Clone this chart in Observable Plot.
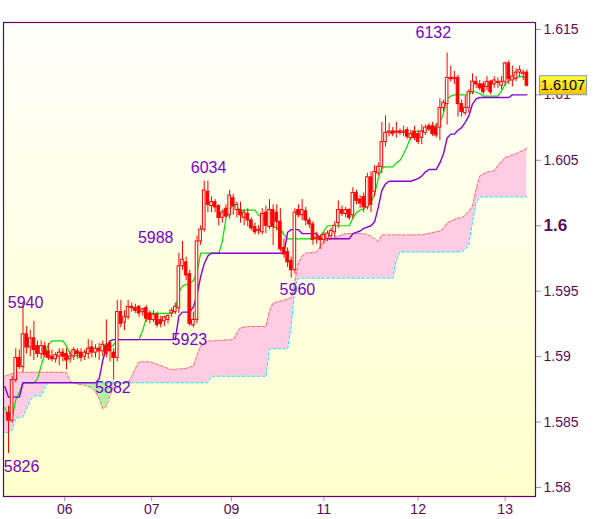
<!DOCTYPE html>
<html><head><meta charset="utf-8">
<script src="https://cdn.jsdelivr.net/npm/d3@7"></script>
<script src="https://cdn.jsdelivr.net/npm/@observablehq/plot@0.6"></script>
<style>body{margin:0;background:#fff;} #chart svg{display:block;}</style>
</head><body><div id="chart"></div>
<script>
// ---- candles (hourly bars, index 0..143) ----
const open = [1.5857,1.5851,1.5882,1.5899,1.5892,1.5917,1.5907,1.5914,1.5908,1.5902,1.5908,1.5904,1.5900,1.5898,1.5900,1.5903,1.5902,1.5898,1.5900,1.5904,1.5903,1.5900,1.5902,1.5907,1.5903,1.5906,1.5904,1.5908,1.5910,1.5903,
1.5899,1.5934,1.5926,1.5930,1.5938,1.5937,1.5938,1.5934,1.5937,1.5933,1.5928,1.5932,1.5928,1.5927,1.5928,1.5933,1.5934,1.5937,1.5969,1.5972,1.5963,1.5924,1.5928,1.5988,1.5997,1.6026,1.6015,1.6018,1.6015,1.6006,
1.6013,1.6008,1.6021,1.6012,1.6012,1.6006,1.6009,1.6004,1.5999,1.5996,1.5995,1.6010,1.5999,1.6012,1.6010,1.6003,1.5983,1.5980,1.5973,1.5966,1.6012,1.6008,1.6011,1.6004,1.6001,1.5990,1.5991,1.5989,1.5990,1.5992,
1.5995,1.6002,1.6012,1.6009,1.6012,1.6008,1.6025,1.6020,1.6022,1.6014,1.6037,1.6026,1.6040,1.6045,1.6064,1.6071,1.6072,1.6071,1.6072,1.6071,1.6073,1.6067,1.6072,1.6070,1.6067,1.6071,1.6076,1.6076,1.6075,1.6075,
1.6090,1.6093,1.6113,1.6112,1.6113,1.6093,1.6086,1.6090,1.6102,1.6110,1.6108,1.6108,1.6106,1.6110,1.6108,1.6109,1.6107,1.6110,1.6124,1.6111,1.6112,1.6117,1.6116,1.6117];
const high = [1.5862,1.5885,1.5906,1.5905,1.5940,1.5923,1.5920,1.5927,1.5912,1.5912,1.5911,1.5910,1.5905,1.5903,1.5906,1.5906,1.5906,1.5904,1.5907,1.5906,1.5906,1.5905,1.5913,1.5912,1.5909,1.5910,1.5912,1.5928,1.5912,1.5906,
1.5943,1.5943,1.5935,1.5943,1.5941,1.5940,1.5939,1.5937,1.5939,1.5935,1.5935,1.5934,1.5931,1.5931,1.5932,1.5937,1.5941,1.5979,1.5988,1.5976,1.5966,1.5934,1.5992,1.6000,1.6034,1.6034,1.6022,1.6020,1.6016,1.6012,
1.6016,1.6027,1.6024,1.6018,1.6018,1.6012,1.6013,1.6006,1.6002,1.6000,1.6013,1.6015,1.6020,1.6016,1.6016,1.6013,1.5990,1.5983,1.5976,1.6013,1.6016,1.6020,1.6014,1.6006,1.6003,1.5995,1.5993,1.5995,1.5996,1.5998,
1.6003,1.6019,1.6015,1.6014,1.6013,1.6029,1.6027,1.6023,1.6025,1.6040,1.6041,1.6046,1.6048,1.6079,1.6084,1.6078,1.6075,1.6079,1.6074,1.6076,1.6075,1.6073,1.6076,1.6073,1.6077,1.6077,1.6078,1.6079,1.6078,1.6097,
1.6096,1.6132,1.6122,1.6118,1.6115,1.6096,1.6099,1.6104,1.6116,1.6114,1.6111,1.6110,1.6114,1.6111,1.6114,1.6113,1.6114,1.6125,1.6126,1.6122,1.6120,1.6122,1.6119,1.6119];
const low = [1.5826,1.5849,1.5880,1.5890,1.5888,1.5902,1.5900,1.5897,1.5899,1.5898,1.5899,1.5897,1.5896,1.5895,1.5893,1.5896,1.5890,1.5895,1.5897,1.5898,1.5896,1.5897,1.5898,1.5899,1.5899,1.5897,1.5900,1.5899,1.5896,1.5882,
1.5896,1.5922,1.5920,1.5928,1.5934,1.5933,1.5930,1.5931,1.5926,1.5925,1.5926,1.5922,1.5922,1.5923,1.5925,1.5930,1.5932,1.5933,1.5966,1.5958,1.5923,1.5922,1.5925,1.5985,1.5995,1.6010,1.6010,1.6010,1.6000,1.6002,
1.6006,1.6005,1.6008,1.6006,1.6002,1.6000,1.5999,1.5996,1.5993,1.5993,1.5993,1.5994,1.5997,1.5985,1.5996,1.5980,1.5975,1.5968,1.5960,1.5963,1.6006,1.6004,1.6000,1.5998,1.5985,1.5986,1.5982,1.5986,1.5988,1.5989,
1.5991,1.5998,1.6007,1.6006,1.6004,1.6005,1.6016,1.6013,1.6010,1.6012,1.6010,1.6022,1.6038,1.6040,1.6060,1.6068,1.6068,1.6067,1.6069,1.6068,1.6066,1.6065,1.6065,1.6062,1.6062,1.6069,1.6072,1.6068,1.6067,1.6065,
1.6087,1.6077,1.6110,1.6108,1.6083,1.6083,1.6084,1.6086,1.6100,1.6105,1.6103,1.6100,1.6103,1.6100,1.6105,1.6105,1.6104,1.6107,1.6108,1.6106,1.6110,1.6113,1.6111,1.6106];
const close = [1.5851,1.5882,1.5899,1.5892,1.5917,1.5907,1.5914,1.5905,1.5902,1.5908,1.5901,1.5899,1.5898,1.5901,1.5903,1.5900,1.5897,1.5900,1.5905,1.5902,1.5899,1.5903,1.5906,1.5903,1.5906,1.5904,1.5909,1.5902,1.5904,1.5899,
1.5934,1.5925,1.5930,1.5938,1.5937,1.5935,1.5933,1.5936,1.5929,1.5928,1.5932,1.5924,1.5925,1.5930,1.5931,1.5935,1.5938,1.5969,1.5974,1.5962,1.5925,1.5928,1.5988,1.5997,1.6027,1.6016,1.6018,1.6014,1.6006,1.6010,
1.6007,1.6023,1.6015,1.6016,1.6008,1.6010,1.6004,1.5998,1.5995,1.5997,1.6009,1.6000,1.6012,1.5999,1.6003,1.5982,1.5978,1.5972,1.5966,1.6010,1.6008,1.6012,1.6004,1.6001,1.5989,1.5991,1.5989,1.5993,1.5994,1.5996,
1.6000,1.6012,1.6009,1.6012,1.6006,1.6025,1.6019,1.6017,1.6014,1.6037,1.6016,1.6041,1.6045,1.6064,1.6071,1.6072,1.6070,1.6072,1.6071,1.6072,1.6068,1.6070,1.6067,1.6064,1.6072,1.6075,1.6074,1.6070,1.6069,1.6090,
1.6094,1.6113,1.6112,1.6113,1.6093,1.6087,1.6090,1.6102,1.6110,1.6108,1.6105,1.6102,1.6110,1.6102,1.6111,1.6110,1.6110,1.6124,1.6112,1.6114,1.6117,1.6119,1.6117,1.6107];

// ---- conversion line (green) ----
const tenkanIdx = [-1,0,1,2,3,4,7,8,9,10,11,12,14,15,16,17,18,20,21,22,24,25,26,27,28,29,30,36,37,38,39,45,46,47,48,50,51,52,53,58,59,60,61,62,63,64,68,69,70,71,72,73,75,76,77,85,86,87,88,94,95,96,97,98,99,100,101,102,103,104,106,107,108,109,110,111,112,114,116,118,119,120,121,122,123,127,128,129,130,131,135,136,137,138,140,141,142,143];
const tenkanVal = [1.5861,1.5854,1.5853,1.5867,1.5873,1.5880,1.5880,1.5883,1.5893,1.5902,1.5909,1.5912,1.5912,1.5912,1.5908,1.5902,1.5901,1.5901,1.5902,1.5904,1.5906,1.5906,1.5908,1.5910,1.5907,1.5909,1.5913,1.5913,1.5920,1.5929,1.5933,1.5933,1.5935,1.5949,1.5954,1.5956,1.5958,1.5964,1.5979,1.5979,1.5988,1.6006,1.6012,1.6016,1.6014,1.6012,1.6012,1.6008,1.6006,1.6004,1.6006,1.5999,1.5998,1.5993,1.5990,1.5990,1.5992,1.5996,1.6000,1.6000,1.6006,1.6010,1.6012,1.6013,1.6015,1.6018,1.6024,1.6036,1.6044,1.6045,1.6045,1.6048,1.6050,1.6055,1.6061,1.6068,1.6072,1.6072,1.6074,1.6077,1.6079,1.6086,1.6097,1.6099,1.6100,1.6100,1.6103,1.6102,1.6101,1.6099,1.6099,1.6103,1.6108,1.6111,1.6113,1.6114,1.6114,1.6113];

// ---- base line (purple) ----
const kijunIdx = [-1,0,3,4,24,25,26,27,28,29,46,47,48,50,51,52,53,54,55,56,76,77,78,80,81,85,86,94,95,97,98,100,101,102,103,104,105,111,113,114,115,116,118,119,120,121,122,123,124,125,126,127,128,129,130,138,139,143];
const kijunVal = [1.5877,1.5869,1.5869,1.5880,1.5880,1.5883,1.5897,1.5907,1.5912,1.5913,1.5913,1.5931,1.5934,1.5934,1.5938,1.5947,1.5961,1.5971,1.5977,1.5979,1.5979,1.5995,1.5997,1.5997,1.5994,1.5994,1.5990,1.5990,1.5994,1.5996,1.5998,1.6000,1.6003,1.6014,1.6027,1.6032,1.6034,1.6034,1.6036,1.6038,1.6041,1.6043,1.6043,1.6048,1.6055,1.6067,1.6070,1.6070,1.6073,1.6075,1.6079,1.6084,1.6093,1.6097,1.6098,1.6098,1.6100,1.6100];

// ---- cloud: leading span A (salmon) and B (cyan) ----
const cloudIdx = [-2,0,1,2,4,5,6,7,9,10,11,16,17,19,21,23,24,25,26,27,28,29,30,33,34,35,36,39,42,45,49,51,52,53,55,56,62,63,64,66,71,72,73,76,77,78,79,80,81,82,85,86,87,89,93,98,100,102,103,106,107,108,114,119,120,121,124,125,126,127,128,129,130,132,134,135,137,140,143];
const spanA = [1.5884,1.5886,1.5887,1.5888,1.5888,1.5888,1.5888,1.5888,1.5888,1.5888,1.5888,1.5888,1.5881,1.5879,1.5878,1.5876,1.5873,1.5868,1.5860,1.5862,1.5870,1.5877,1.5880,1.5880,1.5885,1.5891,1.5896,1.5896,1.5893,1.5890,1.5891,1.5893,1.5901,1.5908,1.5912,1.5912,1.5913,1.5918,1.5922,1.5923,1.5923,1.5935,1.5941,1.5943,1.5944,1.5945,1.5958,1.5972,1.5977,1.5979,1.5980,1.5984,1.5988,1.5990,1.5994,1.5994,1.5992,1.5988,1.5993,1.5993,1.5993,1.5993,1.5993,1.5996,1.5998,1.6002,1.6006,1.6006,1.6008,1.6011,1.6015,1.6028,1.6038,1.6041,1.6042,1.6046,1.6052,1.6055,1.6059];
const spanB = [1.5842,1.5842,1.5844,1.5853,1.5854,1.5860,1.5867,1.5870,1.5870,1.5877,1.5880,1.5880,1.5880,1.5880,1.5880,1.5880,1.5880,1.5880,1.5880,1.5880,1.5880,1.5880,1.5880,1.5880,1.5880,1.5880,1.5880,1.5880,1.5880,1.5880,1.5880,1.5880,1.5880,1.5880,1.5880,1.5885,1.5885,1.5885,1.5885,1.5885,1.5885,1.5906,1.5906,1.5906,1.5906,1.5924,1.5954,1.5960,1.5960,1.5960,1.5960,1.5960,1.5960,1.5960,1.5960,1.5960,1.5960,1.5960,1.5960,1.5960,1.5974,1.5980,1.5980,1.5980,1.5980,1.5980,1.5980,1.5980,1.5982,1.5986,1.6003,1.6018,1.6022,1.6022,1.6022,1.6022,1.6022,1.6022,1.6022];

// ---- swing labels ----
const labelText = ["6132","6034","5988","5940","5923","5882","5960","5826"];
const labelIdx = [117.2,55.2,40.6,4.7,49.9,28.8,79.7,3.6];
const labelPrice = [1.6147,1.6044,1.5991,1.5941,1.5913,1.5876,1.5951,1.5816];

// ---- axes ----
const xTickPos = [15.5,39.5,61.5,87,113,137];
const xTickLabels = ["06","07","09","11","12","13"];
const yTicks = [1.58,1.585,1.59,1.595,1.6,1.605,1.61,1.615];
const lastPrice = 1.6107;

const bars = close.map((c, i) => ({i, o: open[i], h: high[i], l: low[i], c}));
const cloud = cloudIdx.map((x, k) => ({x, a: spanA[k], b: spanB[k]}));
const tenkan = tenkanIdx.map((x, k) => ({x, v: tenkanVal[k]}));
const kijun = kijunIdx.map((x, k) => ({x, v: kijunVal[k]}));
const labels = labelText.map((t, k) => ({t, x: labelIdx[k], y: labelPrice[k]}));

const FONT = "'Liberation Sans', Arial, sans-serif";

const plot = Plot.plot({
  width: 600, height: 519,
  marginLeft: 3, marginRight: 65, marginTop: 22, marginBottom: 23,
  style: {background: "transparent", fontFamily: FONT, fontSize: "14px", color: "#8899aa", overflow: "visible"},
  x: {domain: [-1.38, 145.38], ticks: xTickPos, tickSize: 5, tickPadding: 3,
      tickFormat: d => xTickLabels[xTickPos.indexOf(d)], label: null},
  y: {domain: [1.57931, 1.61553], axis: "right", ticks: yTicks, tickSize: 5, tickPadding: 3,
      tickFormat: d => String(+d.toFixed(3)), label: null},
  marks: [
    Plot.frame({fill: "url(#bgGrad)", stroke: "none"}),
    Plot.areaY(cloud, {x: "x", y1: "b", y2: "a", fill: "#ffcce4", clip: true}),
    Plot.areaY(cloud, {x: "x", y1: "a", y2: d => Math.max(d.a, d.b), fill: "#b2f0a4", clip: true}),
    Plot.line(cloud, {x: "x", y: "a", stroke: "#ff6e6e", strokeDasharray: "3,2", strokeWidth: 1, clip: true}),
    Plot.line(cloud, {x: "x", y: "b", stroke: "#22ddee", strokeDasharray: "3,2", strokeWidth: 1, clip: true}),
    Plot.line(tenkan, {x: "x", y: "v", stroke: "#00e000", strokeWidth: 1.2, clip: true}),
    Plot.line(kijun, {x: "x", y: "v", stroke: "#8a00d4", strokeWidth: 1.4, clip: true}),
    Plot.ruleX(bars, {x: "i", y1: "l", y2: "h", stroke: "#ff0000", strokeWidth: 1}),
    Plot.rect(bars, {x1: d => d.i - 0.36, x2: d => d.i + 0.36,
      y1: d => Math.min(d.o, d.c), y2: d => Math.max(d.o, d.c),
      fill: d => d.c >= d.o ? "#fffff4" : "#ff0000", stroke: "#ff0000", strokeWidth: 1}),
    Plot.text(labels, {x: "x", y: "y", text: "t", fill: "#7a00cc", fontSize: 16, fontFamily: FONT}),
    Plot.frame({stroke: "#660066", strokeWidth: 1.2})
  ]
});

const svg = d3.select(plot);
const defs = svg.insert("defs", ":first-child");
const bg = defs.append("linearGradient").attr("id", "bgGrad").attr("x1", 0).attr("y1", 0).attr("x2", 0).attr("y2", 1);
bg.append("stop").attr("offset", "0%").attr("stop-color", "#fffffb");
bg.append("stop").attr("offset", "100%").attr("stop-color", "#ffffcc");
const yg = defs.append("linearGradient").attr("id", "ylGrad").attr("x1", 0).attr("y1", 0).attr("x2", 0).attr("y2", 1);
yg.append("stop").attr("offset", "0%").attr("stop-color", "#ffff40");
yg.append("stop").attr("offset", "100%").attr("stop-color", "#f2c200");

// axis text colours
svg.selectAll('g[aria-label*="axis"] text').attr("fill", "#5a0a5a").attr("font-family", FONT);
svg.selectAll('g[aria-label*="axis"]').attr("fill", "#5a0a5a");
svg.selectAll('g[aria-label^="y-axis"] text').each(function() {
  if (this.textContent === "1.6") d3.select(this).attr("font-weight", "bold").attr("font-size", "17px");
});

// last price tag
const ys = plot.scale("y");
const yc = ys.apply(lastPrice);
const tag = svg.append("g");
tag.append("rect").attr("x", 539.5).attr("y", yc - 9.5).attr("width", 47).attr("height", 19)
  .attr("fill", "url(#ylGrad)").attr("stroke", "#8899aa").attr("stroke-width", 1);
tag.append("text").attr("x", 563).attr("y", yc).attr("dy", "0.36em").attr("text-anchor", "middle")
  .attr("font-family", FONT).attr("font-size", "14.5px").attr("fill", "#000").text(lastPrice.toFixed(4));

document.getElementById("chart").appendChild(plot);
</script>
</body></html>
